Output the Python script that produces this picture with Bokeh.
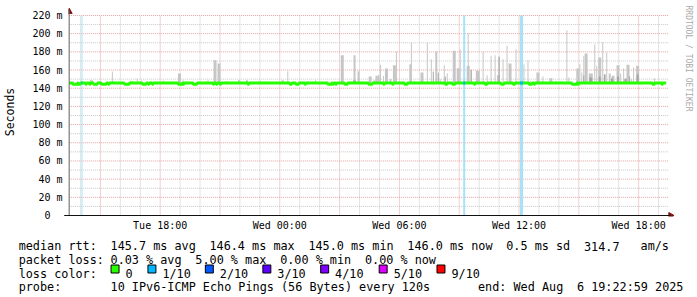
import numpy as np
from bokeh.plotting import figure
from bokeh.layouts import column
from bokeh.core.properties import value
from bokeh.embed import file_html
from bokeh.resources import INLINE

MONO = "DejaVu Sans Mono"

# ---------------- data (time in minutes relative to Wed 00:00) ----------------
start_min = -634
end_min = 1163

y_ticks = [0, 20, 40, 60, 80, 100, 120, 140, 160, 180, 200, 220]
y_tick_labels = ["0\u00a0\u00a0", "20 m", "40 m", "60 m", "80 m", "100 m", "120 m",
                 "140 m", "160 m", "180 m", "200 m", "220 m"]
x_ticks_h = [-6, 0, 6, 12, 18]
x_tick_labels = ["Tue 18:00", "Wed 00:00", "Wed 06:00", "Wed 12:00", "Wed 18:00"]

median_base = 145.8
median_dip = 144.5
dip_start = [-624, -606, -585, -573, -561, -537, -516, -468, -414, -396, -384, -306, -291,
             -261, -201, -192, -180, -96, 30, 48, 75, 144, 159, 168, 195, 267, 312, 339,
             375, 498, 519, 585, 618, 666, 702, 750, 765, 879, 897, 1122, 1149]
dip_end = [-609, -600, -582, -570, -549, -522, -513, -453, -402, -393, -381, -294, -288,
           -249, -198, -189, -177, -93, 36, 57, 78, 156, 162, 171, 204, 279, 315, 342,
           384, 504, 528, 588, 624, 675, 708, 759, 768, 894, 900, 1128, 1152]

loss_start = [-597, 552, 723]
loss_end = [-594, 558, 732]

smoke_t = [-621, -567, -543, -504, -446, -429, -417, -351, -302, -291, -276,
           -216, -195, -183, -160, -123, -99, -61, -42, 9, 24, 84,
           108, 188, 225, 237, 272, 285, 291, 297, 303, 312, 321, 333, 345, 351, 393, 396,
           405, 428, 444,
           456, 471, 483, 495, 504, 525, 537, 543, 567, 567, 576, 596, 612, 624, 636, 648,
           658, 660, 672, 684, 693, 711, 735, 747, 753, 777, 792,
           816, 831, 864, 870, 897, 903, 909, 915, 922, 936, 948, 954, 963, 972, 978, 984,
           993, 1003, 1018, 1026, 1035, 1038, 1048, 1059, 1065, 1077, 1104, 1128, 1149]
smoke_dur = [3, 9, 12, 3, 9, 3, 3, 3, 9, 3, 3,
             3, 9, 9, 9, 6, 6, 9, 3, 6, 3, 3,
             3, 9, 6, 6, 9, 6, 6, 6, 3, 3, 9, 6, 9, 3, 6, 3,
             3, 9, 3,
             3, 6, 3, 3, 3, 9, 9, 3, 9, 3, 3, 12, 3, 3, 3, 3,
             9, 3, 3, 3, 9, 3, 3, 3, 3, 9, 3,
             9, 3, 3, 3, 9, 3, 3, 3, 9, 12, 3, 3, 9, 3, 6, 3,
             6, 9, 9, 3, 3, 3, 9, 3, 3, 9, 3, 3, 3]
smoke_top = [147.4, 148.8, 147.4, 158.4, 147.7, 150.7, 148.5, 148.5, 156.2, 148.8, 147.4,
             148.8, 170.8, 167.2, 147.4, 148.8, 148.8, 147.4, 147.4, 148.8, 158.7, 147.4,
             148.8, 176.3, 176.3, 158.7, 152.9, 148.8, 153.7, 154.3, 165.8, 153.7, 161.7,
             150.0, 165.3, 180.4, 166.4, 190.3, 148.2, 157.3, 190.3,
             172.0, 180.4, 150.0, 165.3, 156.5, 181.2, 162.0, 183.0, 164.7, 200.5, 160.2,
             159.2, 180.4, 154.3, 175.7, 176.3, 154.3, 174.6, 172.0, 186.7, 167.2, 183.0,
             166.4, 170.8, 148.2, 157.3, 152.9,
             151.0, 148.2, 203.8, 151.8, 161.7, 166.4, 157.3, 175.7, 178.2, 156.2, 188.1,
             164.7, 173.8, 190.6, 155.4, 179.3, 156.2, 153.7, 165.3, 156.2, 162.0, 150.0,
             165.8, 150.0, 162.8, 164.7, 147.4, 150.7, 147.4]

dark_t = [225, 462, 477, 498, 576, 660, 915, 936, 963, 978, 1000, 1018, 1041, 1053, 1077]
dark_dur = [9, 3, 3, 3, 3, 3, 3, 9, 6, 3, 6, 6, 6, 3, 6]
dark_top = [148.5, 158.0, 157.3, 153.0, 160.2, 174.6, 154.0, 151.8, 153.0, 155.0, 150.7,
            153.0, 150.7, 153.0, 155.0]

# legend text (column positions in characters)
line1 = [(0, "median rtt:"), (13, "145.7 ms avg"), (27, "146.4 ms max"), (41, "145.0 ms min"),
         (55, "146.0 ms now"), (69, "0.5 ms sd"), (80, "314.7"), (88, "am/s")]
line2 = [(0, "packet loss:"), (13, "0.03 % avg"), (25, "5.00 % max"), (37, "0.00 % min"),
         (49, "0.00 % now")]
line3 = [(0, "loss color:")]
line4 = [(0, "probe:"), (13, "10 IPv6-ICMP Echo Pings (56 Bytes) every 120s"),
         (65, "end: Wed Aug"), (79, "6 19:22:59 2025")]
loss_labels = ["0", "1/10", "2/10", "3/10", "4/10", "5/10", "9/10"]
loss_colors = ["#26ff00", "#00b8ff", "#0059ff", "#5e00ff", "#7e00ff", "#dd00ff", "#ff0000"]
credit = "RRDTOOL / TOBI OETIKER"

# ---------------- main chart ----------------
H = 1 / 60.0
t0 = start_min * H
t1 = end_min * H
x_lo = -636 * H
x_hi = 1191 * H
y_lo, y_hi = -1.1, 228.8

p = figure(width=697, height=233, x_range=(x_lo, x_hi), y_range=(y_lo, y_hi),
           output_backend="svg", toolbar_location=None, title=None,
           min_border_left=66, min_border_right=22, min_border_top=7, min_border_bottom=17)
p.outline_line_color = None
p.background_fill_color = "white"
p.border_fill_color = "white"
p.xgrid.visible = False
p.ygrid.visible = False

# axes (labels only)
p.yaxis.ticker = y_ticks
p.yaxis.major_label_overrides = {v: s for v, s in zip(y_ticks, y_tick_labels)}
p.xaxis.ticker = x_ticks_h
p.xaxis.major_label_overrides = {v: s for v, s in zip(x_ticks_h, x_tick_labels)}
for ax in (p.xaxis[0], p.yaxis[0]):
    ax.axis_line_color = None
    ax.major_tick_line_color = None
    ax.minor_tick_line_color = None
    ax.major_tick_out = 0
    ax.major_tick_in = 0
    ax.major_label_text_font = MONO
    ax.major_label_text_font_size = "10px"
    ax.major_label_text_color = "black"
p.yaxis.major_label_standoff = 6
p.xaxis.major_label_standoff = 3
p.yaxis.axis_label = "Seconds"
p.yaxis.axis_label_text_font = MONO
p.yaxis.axis_label_text_font_size = "11.5px"
p.yaxis.axis_label_text_font_style = "normal"
p.yaxis.axis_label_text_color = "black"
p.yaxis.axis_label_standoff = 12

px_h = (x_hi - x_lo) / 609.0      # hours per pixel
px_y = (y_hi - y_lo) / 209.0      # value per pixel

# grid lines
grid_end = 1170 * H
hours = np.arange(-10, 20)
minor_h = [h for h in hours if h % 3 != 0]
major_h = [h for h in hours if h % 3 == 0]
p.segment(x0=minor_h, x1=minor_h, y0=0, y1=220, line_color="#c8c8c8", line_dash="1 1", line_width=1)
p.segment(x0=major_h, x1=major_h, y0=0, y1=220, line_color="#e6a0a0", line_dash="1 1", line_width=1)
minor_y = list(range(10, 221, 20))
major_y = list(range(20, 221, 20))
p.segment(x0=t0, x1=grid_end, y0=minor_y, y1=minor_y, line_color="#c8c8c8", line_dash="1 1", line_width=1)
p.segment(x0=t0, x1=grid_end, y0=major_y, y1=major_y, line_color="#e6a0a0", line_dash="1 1", line_width=1)

# loss background bars
ls = np.array(loss_start) * H
le = np.array(loss_end) * H
p.quad(left=ls, right=le, bottom=0, top=220, fill_color="#a6e3f8", line_color=None)

# smoke
st = np.array(smoke_t) * H
sd = np.array(smoke_dur) * H
p.quad(left=st - sd / 2, right=st + sd / 2, bottom=145.0, top=smoke_top,
       fill_color="#c6c6c6", line_color=None)
dt = np.array(dark_t) * H
dd = np.array(dark_dur) * H
p.quad(left=dt - dd / 2, right=dt + dd / 2, bottom=145.0, top=dark_top,
       fill_color="#a4a4a4", line_color=None)

# median line (step)
mx = [start_min]
my = [median_base]
for s, e in zip(dip_start, dip_end):
    mx += [s, e]
    my += [median_dip, median_base]
mx.append(end_min)
my.append(median_base)
p.step(np.array(mx) * H, my, mode="after", line_color="#26ff00", line_width=3)
p.segment(x0=ls, x1=le, y0=median_base, y1=median_base, line_color="#00b8ff", line_width=3)

# axis lines and arrows
p.segment(x0=[t0], x1=[t0], y0=[0], y1=[226], line_color="#606060", line_width=1,
          level="overlay")
p.segment(x0=[t0 - 5 * px_h], x1=[t1 + 0.2], y0=[0], y1=[0], line_color="#111111",
          line_width=1, level="overlay")
p.scatter(x=[t0], y=[224.2], marker="triangle", size=6, color="#7f1010")
p.scatter(x=[t1 + 0.22], y=[0], marker="triangle", size=6, angle=-np.pi / 2, color="#7f1010")

# credit text, vertical at the right edge (outside the frame -> overlay level)
p.text(x=[x_hi + 13 * px_h], y=[y_hi + 2 * px_y], text=[credit], angle=-np.pi / 2,
       text_font=value(MONO), text_font_size="8px", text_color="#aaaaaa",
       text_align="left", text_baseline="middle", level="overlay")

# ---------------- legend text ----------------
# frame of this figure spans canvas pixels 66..675, so x data == canvas pixel
p2 = figure(width=697, height=64, x_range=(66, 675), y_range=(64, 0),
            output_backend="svg", toolbar_location=None, title=None,
            min_border_left=66, min_border_right=22, min_border_top=0, min_border_bottom=0)
p2.outline_line_color = None
p2.axis.visible = False
p2.grid.visible = False
p2.background_fill_color = "white"
p2.border_fill_color = "white"

CW = 7.09
X0 = 16
baselines = [12.7, 26.2, 40.0, 53.7]
for line, yb in zip([line1, line2, line3, line4], baselines):
    p2.text(x=[X0 + c * CW for c, _ in line], y=yb, text=[s for _, s in line],
            text_font=value(MONO), text_font_size="11.8px", text_baseline="alphabetic",
            text_color="black", level="overlay")

box_left = [108.7, 145.7, 203.3, 261.0, 319.0, 377.7, 435.7]
bl = np.array(box_left)
p2.quad(left=bl, right=bl + 8, top=31.5, bottom=39.5, fill_color=loss_colors,
        line_color="black", line_width=1, level="overlay")
p2.text(x=bl + 14.5, y=baselines[2], text=loss_labels, text_font=value(MONO),
        text_font_size="11.8px", text_baseline="alphabetic", text_color="black",
        level="overlay")

layout = column(p, p2, spacing=0)
open("out.html", "w").write(file_html(layout, INLINE))
